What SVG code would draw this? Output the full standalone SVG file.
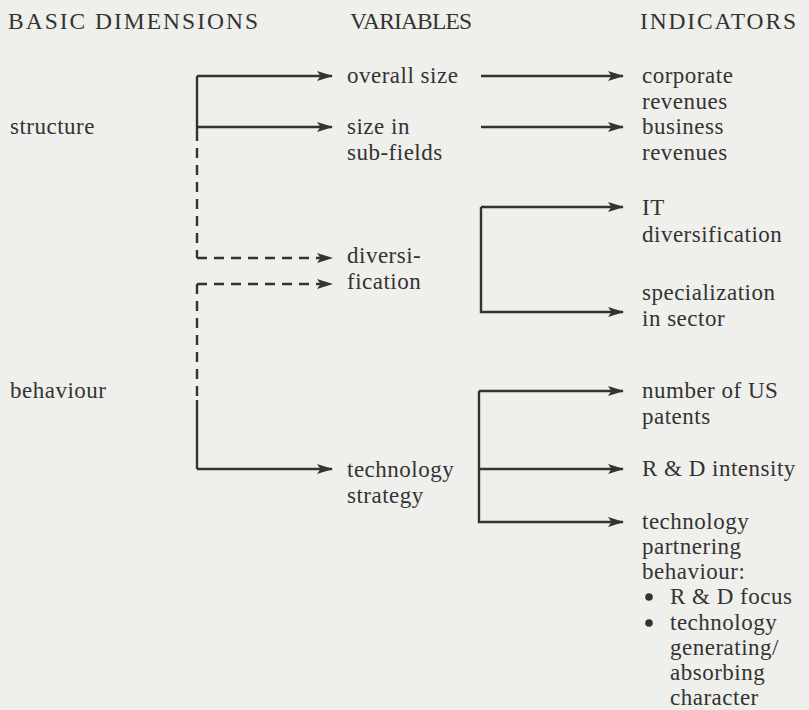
<svg xmlns="http://www.w3.org/2000/svg" width="809" height="710" viewBox="0 0 809 710">
<defs>
<marker id="ah" markerWidth="16" markerHeight="12" refX="15" refY="6" orient="auto" markerUnits="userSpaceOnUse">
<path d="M0,1 L16,6 L0,11 L3.5,6 Z" fill="#333"/>
</marker>
<style>
text{font-family:"Liberation Serif","Times New Roman",serif;font-size:23px;fill:#333;letter-spacing:0.5px}
.h{font-size:23.5px;letter-spacing:0}
.c{fill:none;stroke:#333;stroke-width:2.4}
.a{marker-end:url(#ah)}
.d{stroke-dasharray:10 7}
</style>
</defs>
<rect width="809" height="710" fill="#efefeb"/>
<g id="headers">
<text class="h" x="8" y="29" textLength="250" lengthAdjust="spacing">BASIC DIMENSIONS</text>
<text class="h" x="350" y="29" textLength="122" lengthAdjust="spacing">VARIABLES</text>
<text class="h" x="640" y="29" textLength="156" lengthAdjust="spacing">INDICATORS</text>
</g>
<g id="connectors">
<path class="c" d="M197,76 V131"/>
<path class="c d" d="M197,131 V258"/>
<path class="c a" d="M197,76 H332"/>
<path class="c a" d="M197,127 H332"/>
<path class="c d a" d="M197,258 H332"/>
<path class="c d a" d="M197,284 H332"/>
<path class="c d" d="M197,284 V396"/>
<path class="c" d="M197,400 V469"/>
<path class="c a" d="M197,469 H332"/>
<path class="c a" d="M481,76 H623"/>
<path class="c a" d="M481,127 H623"/>
<path class="c a" d="M481,207 H623"/>
<path class="c a" d="M481,207 V312 H623"/>
<path class="c a" d="M479,391 H623"/>
<path class="c a" d="M479,469 H623"/>
<path class="c a" d="M479,391 V522 H623"/>
</g>
<g id="structure"><text x="10" y="134">structure</text></g>
<g id="behaviour"><text x="10" y="398">behaviour</text></g>
<g id="overall-size"><text x="347" y="83">overall size</text></g>
<g id="size-in-sub-fields"><text x="347" y="134">size in</text><text x="347" y="160">sub-fields</text></g>
<g id="diversification"><text x="347" y="263">diversi-</text><text x="347" y="289">fication</text></g>
<g id="technology-strategy"><text x="347" y="477">technology</text><text x="347" y="503">strategy</text></g>
<g id="corporate-revenues"><text x="642" y="83">corporate</text><text x="642" y="109">revenues</text></g>
<g id="business-revenues"><text x="642" y="134">business</text><text x="642" y="160">revenues</text></g>
<g id="it-diversification"><text x="642" y="215">IT</text><text x="642" y="242">diversification</text></g>
<g id="specialization"><text x="642" y="300">specialization</text><text x="642" y="326">in sector</text></g>
<g id="us-patents"><text x="642" y="398">number of US</text><text x="642" y="424">patents</text></g>
<g id="rd-intensity"><text x="642" y="476">R &amp; D intensity</text></g>
<g id="partnering">
<text x="642" y="529">technology</text>
<text x="642" y="554">partnering</text>
<text x="642" y="579">behaviour:</text>
<circle cx="649" cy="597" r="3.8" fill="#333"/>
<text x="670" y="604">R &amp; D focus</text>
<circle cx="649" cy="623" r="3.8" fill="#333"/>
<text x="670" y="630">technology</text>
<text x="670" y="655">generating/</text>
<text x="670" y="680">absorbing</text>
<text x="670" y="705">character</text>
</g>
</svg>
